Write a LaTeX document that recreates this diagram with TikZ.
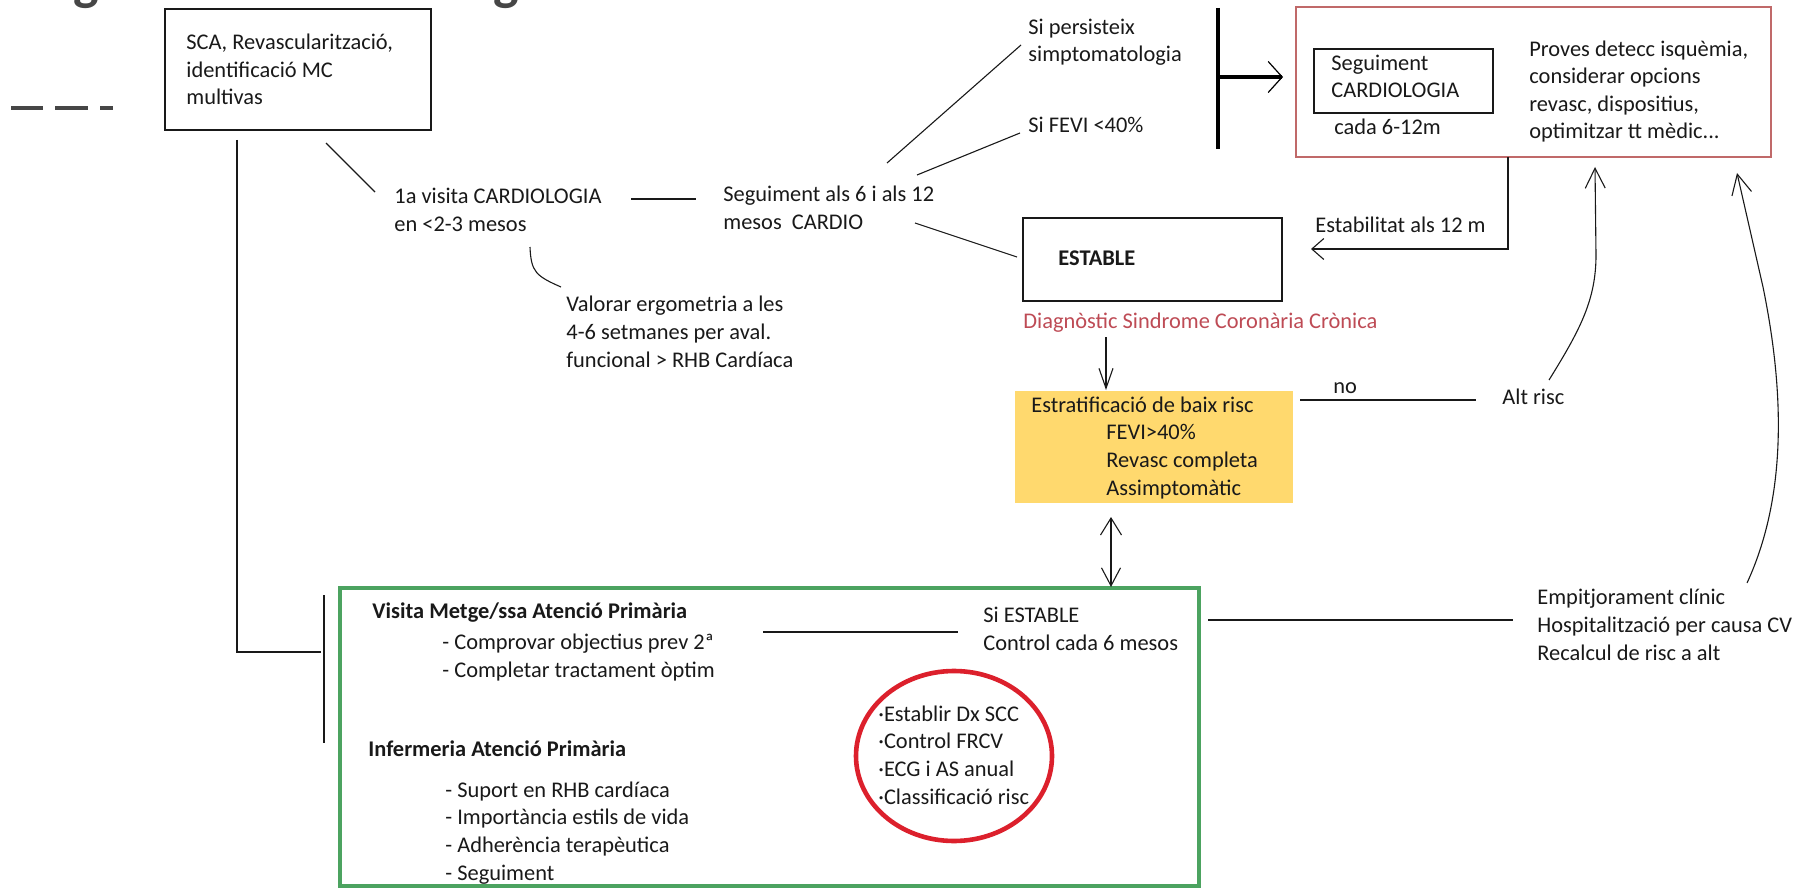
\documentclass[tikz,border=0pt]{standalone}
\usepackage{fontspec}
\setmainfont{Carlito}
\usetikzlibrary{arrows.meta,fit,shapes.geometric}

\definecolor{boxred}{RGB}{192,105,105}
\definecolor{okgreen}{RGB}{76,163,96}
\definecolor{circred}{RGB}{220,32,44}
\definecolor{yell}{RGB}{255,217,110}
\definecolor{dxred}{RGB}{190,75,85}
\definecolor{titlegray}{RGB}{70,70,70}
\definecolor{inkc}{RGB}{25,25,25}

\begin{document}
\begin{tikzpicture}[x=0.5pt,y=-0.5pt,
  txt/.style={font=\fontsize{11.2}{13.8}\selectfont, inner sep=0pt, anchor=base west, align=left, text=inkc},
  bx/.style={draw=inkc, line width=0.7pt, inner sep=0pt},
  ln/.style={draw=inkc, line width=0.55pt},
  arr/.style={ln, -{Straight Barb[length=10pt,width=10pt,line width=0.55pt]}},
  thick bar/.style={draw=black, line width=2.2pt},
  dashseg/.style={draw=titlegray, line width=2pt},
  frag/.style={anchor=base, inner sep=0pt, text=titlegray, font=\fontsize{27}{27}\selectfont\bfseries},
]
\fill[white] (0,0) rectangle (1800,888);
\useasboundingbox (0,0) rectangle (1800,888);

% cropped title fragments
\begin{scope}
  \clip (0,0) rectangle (1800,888);
  \node[frag] (g1) at (86,0) {g};
  \node[frag] (g2) at (506,0) {g};
\end{scope}
\draw[dashseg] (11,108) -- (43,108);
\draw[dashseg] (55,108) -- (88,108);
\draw[dashseg] (100,108) -- (113,108);

% ---------- boxes ----------
\node[bx, fit={(165,9) (431,130)}] (boxA) {};
\node[draw=boxred, line width=0.8pt, inner sep=0pt, fit={(1296,7) (1771,157)}] (redbox) {};
\node[bx, fit={(1314,49) (1493,113)}] (segbox) {};
\node[bx, fit={(1023,218) (1282,301)}] (estbox) {};
\node[fill=yell, inner sep=0pt, fit={(1015,391) (1293,503)}] (yellow) {};
\node[draw=okgreen, line width=1.7pt, inner sep=0pt, fit={(340,588) (1199,886)}] (green) {};
\node[draw=circred, line width=2.3pt, ellipse, inner sep=0pt, minimum width=98pt, minimum height=85pt] (circ) at (954,756) {};

% ---------- texts (anchor = baseline of the last line) ----------
\node[txt] (tA) at (186,105) {SCA, Revascularització,\\identificació MC\\multivas};
\node[txt] (t1a) at (394,231) {1a visita CARDIOLOGIA\\en <2-3 mesos};
\node[txt] (tSeg) at (723,229) {Seguiment als 6 i als 12\\mesos\hspace{0.45em}CARDIO};
\node[txt] (tVal) at (566,367) {Valorar ergometria a les\\4-6 setmanes per aval.\\funcional > RHB Cardíaca};
\node[txt] (tPers) at (1028,62) {Si persisteix\\simptomatologia};
\node[txt] (tFevi) at (1028,133) {Si FEVI <40\%};
\node[txt, font=\fontsize{11.2}{13.8}\selectfont\bfseries] (tEst) at (1058,265) {ESTABLE};
\node[txt, text=dxred] (tDx) at (1023,328) {Diagnòstic Sindrome Coronària Crònica};
\node[txt] (tSegC) at (1331,98) {Seguiment\\CARDIOLOGIA};
\node[txt] (tCada) at (1334,134) {cada 6-12m};
\node[txt] (tProves) at (1529,139) {Proves detecc isquèmia,\\considerar opcions\\revasc, dispositius,\\optimitzar tt mèdic...};
\node[txt] (tEstab) at (1315,232) {Estabilitat als 12 m};
\node[txt] (tStrat) at (1031,495) {Estratificació de baix risc\\\hspace*{37.5pt}FEVI>40\%\\\hspace*{37.5pt}Revasc completa\\\hspace*{37.5pt}Assimptomàtic};
\node[txt] (tNo) at (1333,393) {no};
\node[txt] (tAlt) at (1502,404) {Alt risc};
\node[txt, font=\fontsize{11.2}{13.8}\selectfont\bfseries] (tVis) at (372,618) {Visita Metge/ssa Atenció Primària};
\node[txt] (tVisL) at (442,677) {- Comprovar objectius prev 2ª\\- Completar tractament òptim};
\node[txt, font=\fontsize{11.2}{13.8}\selectfont\bfseries] (tInf) at (368,756) {Infermeria Atenció Primària};
\node[txt] (tInfL) at (445,880) {- Suport en RHB cardíaca\\- Importància estils de vida\\- Adherència terapèutica\\- Seguiment};
\node[txt] (tSiE) at (983,650) {Si ESTABLE\\Control cada 6 mesos};
\node[txt] (tCirc) at (878,804) {·Establir Dx SCC\\·Control FRCV\\·ECG i AS anual\\·Classificació risc};
\node[txt] (tEmp) at (1537,660) {Empitjorament clínic\\Hospitalització per causa CV\\Recalcul de risc a alt};

% ---------- connector end points ----------
\coordinate (aS) at (326,143);   \coordinate (aE) at (375,192);
\coordinate (bS) at (631,199);   \coordinate (bE) at (696,199);
\coordinate (cS) at (530,247);   \coordinate (cE) at (561,287);
\coordinate (dS) at (887,163);   \coordinate (dE) at (1021,45);
\coordinate (eS) at (917,175);   \coordinate (eE) at (1020,133);
\coordinate (fS) at (915,223);   \coordinate (fE) at (1017,257);
\coordinate (kTop) at (1218,8);  \coordinate (kBot) at (1218,149);
\coordinate (kMid) at (1218,77); \coordinate (kTip) at (1283,77);
\coordinate (rS) at (1508,157);  \coordinate (rC) at (1508,249); \coordinate (rE) at (1311,249);
\coordinate (dxS) at (1106,337); \coordinate (dxE) at (1106,390);
\coordinate (noS) at (1300,400); \coordinate (noE) at (1476,400);
\coordinate (altS) at (1549,380); \coordinate (altE) at (1595,167);
\coordinate (yS) at (1111,517);  \coordinate (yE) at (1111,587);
\coordinate (gS) at (1208,620);  \coordinate (gE) at (1513,620);
\coordinate (empS) at (1747,583); \coordinate (empE) at (1737,173);
\coordinate (iS) at (763,632);   \coordinate (iE) at (958,632);
\coordinate (lTop) at (237,140); \coordinate (lCorner) at (237,652); \coordinate (lEnd) at (321,652);
\coordinate (barT) at (324,595); \coordinate (barB) at (324,743);

% ---------- connectors ----------
\draw[ln] (aS) -- (aE);
\draw[ln] (bS) -- (bE);
\draw[ln] (cS) .. controls (531,272) and (536,276) .. (cE);
\draw[ln] (dS) -- (dE);
\draw[ln] (eS) -- (eE);
\draw[ln] (fS) -- (fE);
\draw[thick bar] (kTop) -- (kBot);
\draw[thick bar, -{Straight Barb[length=7pt,width=15.5pt,line width=0.6pt]}] (kMid) -- (kTip);
\draw[ln, -{Straight Barb[length=6pt,width=10.5pt,line width=0.55pt]}] (rS) -- (rC) -- (rE);
\draw[ln, -{Straight Barb[length=10pt,width=7pt,line width=0.55pt]}] (dxS) -- (dxE);
\draw[ln] (noS) -- (noE);
\draw[arr] (altS) .. controls (1580,330) and (1596,300) .. (1596,255) -- (altE);
\draw[ln, {Straight Barb[length=8.5pt,width=10.5pt,line width=0.55pt]}-{Straight Barb[length=9pt,width=9.5pt,line width=0.55pt]}] (yS) -- (yE);
\draw[ln] (gS) -- (gE);
\draw[arr] (empS) .. controls (1790,490) and (1782,380) .. (1763,287) -- (empE);
\draw[ln] (iS) -- (iE);
\draw[ln] (lTop) -- (lCorner) -- (lEnd);
\draw[ln] (barT) -- (barB);
\end{tikzpicture}
\end{document}
